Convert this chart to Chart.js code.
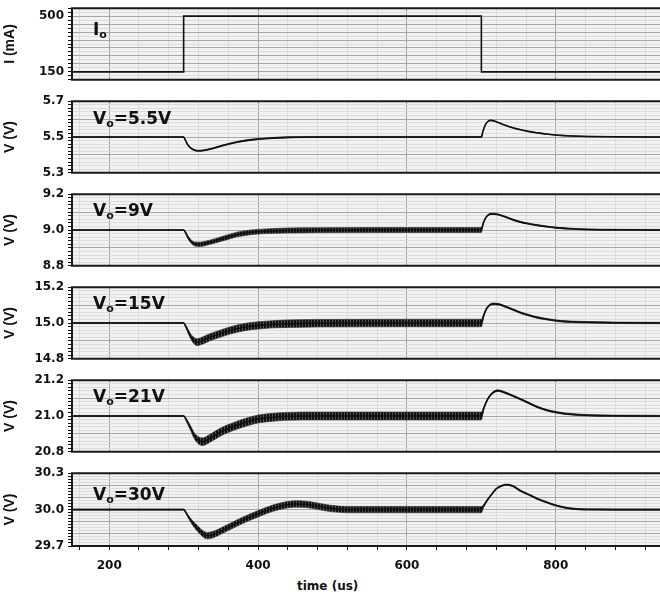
<!DOCTYPE html>
<html>
<head>
<meta charset="utf-8">
<script src="https://cdn.jsdelivr.net/npm/chart.js@4"></script>
<style>
  body { margin: 0; background: #fff; }
  #wrap { position: relative; width: 660px; height: 597px; overflow: hidden; font-family: "DejaVu Sans", sans-serif; }
  #wrap canvas { position: absolute; left: 0; }
  .tag { position: absolute; font-weight: bold; font-size: 17px; line-height: 17px; color: #111; white-space: nowrap; }
  .tag span { font-size: 11px; position: relative; top: 3px; }
  #xtitle { position: absolute; left: 297px; top: 580px; font-weight: bold; font-size: 12px; line-height: 12px; color: #111; }
</style>
</head>
<body>
<div id="wrap">
  <div id="xtitle">time (us)</div>
</div>
<script>
// time axis (us)
const timeRange = [150, 940];

// load current step
const iTime = [150, 300, 300, 700, 700, 940];
const iLoad = [150, 150, 500, 500, 150, 150];

// Vo = 5.5V : time, centre value, ripple half-band
const t55 = [150, 300, 302, 305, 309, 314, 320, 328, 340, 355, 372, 390, 410, 440, 480, 700,
  702, 705, 709, 713, 720, 731, 742, 753, 765, 776, 790, 803, 820, 843, 880, 940];
const v55 = [5.5, 5.5, 5.485, 5.46, 5.44, 5.428, 5.423, 5.426, 5.437, 5.455, 5.472, 5.484, 5.492, 5.498, 5.5, 5.5,
  5.53, 5.565, 5.588, 5.593, 5.585, 5.567, 5.552, 5.54, 5.53, 5.523, 5.515, 5.51, 5.506, 5.503, 5.501, 5.5];
const r55 = [0.001, 0.001, 0.002, 0.002, 0.003, 0.003, 0.003, 0.003, 0.003, 0.003, 0.003, 0.003, 0.003, 0.003, 0.003, 0.003,
  0.002, 0.001, 0.001, 0.001, 0.001, 0.001, 0.001, 0.001, 0.001, 0.001, 0.001, 0.001, 0.001, 0.001, 0.001, 0.001];

// Vo = 9V
const t9 = [150, 300, 302, 305, 309, 315, 322, 330, 340, 355, 372, 390, 410, 440, 480, 600, 700,
  702, 705, 709, 715, 722, 731, 742, 753, 765, 776, 790, 803, 820, 843, 880, 940];
const v9 = [9.0, 9.0, 8.99, 8.965, 8.94, 8.922, 8.92, 8.926, 8.937, 8.955, 8.975, 8.987, 8.993, 8.997, 8.999, 9.0, 9.0,
  9.03, 9.062, 9.083, 9.09, 9.087, 9.075, 9.058, 9.044, 9.034, 9.026, 9.018, 9.012, 9.007, 9.003, 9.001, 9.0];
const r9 = [0.002, 0.002, 0.004, 0.007, 0.009, 0.011, 0.012, 0.012, 0.012, 0.013, 0.013, 0.013, 0.013, 0.014, 0.014, 0.014, 0.014,
  0.006, 0.003, 0.003, 0.003, 0.003, 0.003, 0.003, 0.003, 0.003, 0.003, 0.003, 0.003, 0.003, 0.003, 0.003, 0.003];

// Vo = 15V
const t15 = [150, 300, 303, 307, 311, 318, 326, 335, 349, 362, 372, 386, 401, 420, 439, 480, 600, 700,
  703, 707, 711, 717, 724, 731, 742, 753, 765, 776, 790, 803, 820, 843, 880, 940];
const v15 = [15.0, 15.0, 14.98, 14.945, 14.915, 14.893, 14.903, 14.92, 14.94, 14.958, 14.969, 14.98, 14.987, 14.993, 14.996, 14.999, 15.0, 15.0,
  15.04, 15.08, 15.1, 15.107, 15.104, 15.094, 15.076, 15.057, 15.042, 15.03, 15.02, 15.012, 15.007, 15.004, 15.001, 15.0];
const r15 = [0.003, 0.003, 0.006, 0.011, 0.015, 0.019, 0.02, 0.02, 0.02, 0.02, 0.02, 0.02, 0.02, 0.02, 0.021, 0.021, 0.021, 0.021,
  0.008, 0.004, 0.004, 0.004, 0.004, 0.004, 0.004, 0.004, 0.004, 0.004, 0.004, 0.004, 0.004, 0.004, 0.004, 0.004];

// Vo = 21V
const t21 = [150, 300, 304, 309, 315, 325, 336, 349, 360, 372, 386, 401, 420, 439, 480, 600, 700,
  703, 708, 714, 722, 731, 742, 753, 765, 776, 790, 803, 820, 843, 880, 940];
const v21 = [21.0, 21.0, 20.975, 20.935, 20.885, 20.856, 20.877, 20.909, 20.93, 20.949, 20.968, 20.984, 20.993, 20.998, 21.0, 21.0, 21.0,
  21.04, 21.09, 21.125, 21.142, 21.132, 21.113, 21.093, 21.07, 21.049, 21.03, 21.019, 21.01, 21.004, 21.001, 21.0];
const r21 = [0.003, 0.003, 0.007, 0.012, 0.017, 0.021, 0.022, 0.022, 0.022, 0.022, 0.022, 0.022, 0.022, 0.022, 0.022, 0.022, 0.022,
  0.008, 0.004, 0.004, 0.004, 0.004, 0.004, 0.004, 0.004, 0.004, 0.004, 0.004, 0.004, 0.004, 0.004, 0.004];

// Vo = 30V
const t30 = [150, 300, 304, 309, 314, 320, 326, 332, 340, 349, 360, 372, 386, 401, 420, 439, 450, 465, 480, 497, 520, 600, 700,
  703, 709, 715, 720, 727, 733, 742, 753, 765, 776, 790, 803, 821, 843, 880, 940];
const v30 = [30.0, 30.0, 29.965, 29.916, 29.875, 29.835, 29.8, 29.785, 29.795, 29.82, 29.853, 29.89, 29.93, 29.968, 30.012, 30.04, 30.046, 30.043, 30.028, 30.01, 30.0, 30.0, 30.0,
  30.03, 30.087, 30.135, 30.171, 30.195, 30.205, 30.195, 30.153, 30.12, 30.087, 30.055, 30.029, 30.008, 30.001, 30.0, 30.0];
const r30 = [0.004, 0.004, 0.008, 0.014, 0.02, 0.024, 0.026, 0.026, 0.026, 0.026, 0.026, 0.026, 0.026, 0.026, 0.026, 0.026, 0.026, 0.026, 0.026, 0.026, 0.026, 0.026, 0.026,
  0.01, 0.005, 0.005, 0.005, 0.005, 0.005, 0.005, 0.005, 0.005, 0.005, 0.005, 0.005, 0.005, 0.005, 0.005, 0.005];

// axis ranges, grid steps and labelled ticks per panel
const yRanges = [[100, 550], [5.3, 5.7], [8.8, 9.2], [14.8, 15.2], [20.8, 21.2], [29.7, 30.3]];
const yMinorSteps = [25, 0.02, 0.02, 0.02, 0.02, 0.025];
const yMajorSteps = [50, 0.1, 0.1, 0.1, 0.1, 0.1];
const yTickLabels = [[150, 500], [5.3, 5.5, 5.7], [8.8, 9.0, 9.2], [14.8, 15.0, 15.2], [20.8, 21.0, 21.2], [29.7, 30.0, 30.3]];
const yTitles = ["I (mA)", "V (V)", "V (V)", "V (V)", "V (V)", "V (V)"];
const tagMain = ["I", "V", "V", "V", "V", "V"];
const tagTail = ["", "=5.5V", "=9V", "=15V", "=21V", "=30V"];
const tagTop = [21, 110, 202, 295, 388, 486];
const xLabelTicks = [200, 400, 600, 800];

const series = [
  [iTime, iLoad, null],
  [t55, v55, r55],
  [t9, v9, r9],
  [t15, v15, r15],
  [t21, v21, r21],
  [t30, v30, r30],
];

const wrap = document.getElementById("wrap");
const near = (a, b) => Math.abs(a - b) < 1e-6;
const isMultiple = (v, s) => near(v / s, Math.round(v / s));

// fuzzy fill for the ripple band (dense vertical hatching)
function ripplePattern() {
  const c = document.createElement("canvas");
  c.width = 3;
  c.height = 1;
  const g = c.getContext("2d");
  g.fillStyle = "#111";
  g.fillRect(0, 0, 2, 1);
  g.fillStyle = "#555";
  g.fillRect(2, 0, 1, 1);
  return g.createPattern(c, "repeat");
}
const rippleFill = ripplePattern();

const framePlugin = {
  id: "frame",
  beforeDraw(chart) {
    const { ctx, chartArea: a } = chart;
    ctx.save();
    ctx.fillStyle = "#f2f2f2";
    ctx.fillRect(a.left, a.top, a.right - a.left, a.bottom - a.top);
    ctx.restore();
  },
  afterDraw(chart) {
    const { ctx, chartArea: a } = chart;
    ctx.save();
    ctx.strokeStyle = "#1a1a1a";
    ctx.lineWidth = 2;
    ctx.beginPath();
    ctx.moveTo(a.right, a.top);
    ctx.lineTo(a.left, a.top);
    ctx.lineTo(a.left, a.bottom);
    ctx.lineTo(a.right, a.bottom);
    ctx.stroke();
    ctx.restore();
  },
};

const tickFont = { family: "DejaVu Sans", weight: "bold", size: 12 };

series.forEach(([t, v, r], i) => {
  const last = i === series.length - 1;
  const top = 5 + 93 * i;
  const padTop = 8;
  const bottomH = last ? 51 : 10;

  const canvas = document.createElement("canvas");
  canvas.width = 660;
  canvas.height = padTop + 76 + bottomH;
  canvas.style.top = top - padTop + "px";
  wrap.appendChild(canvas);

  const tag = document.createElement("div");
  tag.className = "tag";
  tag.style.left = "93px";
  tag.style.top = tagTop[i] + "px";
  tag.innerHTML = tagMain[i] + "<span>o</span>" + tagTail[i];
  wrap.appendChild(tag);

  const datasets = [
    {
      data: t.map((x, k) => ({ x: x, y: v[k] })),
      borderColor: "#111",
      borderWidth: 1.6,
      pointRadius: 0,
      fill: false,
      tension: 0,
      cubicInterpolationMode: r ? "monotone" : "default",
    },
  ];
  if (r) {
    datasets.push({
      data: t.map((x, k) => ({ x: x, y: v[k] - r[k] })),
      borderColor: "#333",
      borderWidth: 0.7,
      pointRadius: 0,
      fill: false,
      cubicInterpolationMode: "monotone",
    });
    datasets.push({
      data: t.map((x, k) => ({ x: x, y: v[k] + r[k] })),
      borderColor: "#333",
      borderWidth: 0.7,
      backgroundColor: rippleFill,
      pointRadius: 0,
      fill: "-1",
      cubicInterpolationMode: "monotone",
    });
  }

  const [yMin, yMax] = yRanges[i];
  const labels = yTickLabels[i];
  const dec = i === 0 ? 0 : 1;

  new Chart(canvas, {
    type: "line",
    data: { datasets: datasets },
    options: {
      responsive: false,
      animation: false,
      events: [],
      layout: { padding: { top: padTop, left: 0, right: 0, bottom: 0 } },
      plugins: { legend: { display: false }, tooltip: { enabled: false } },
      scales: {
        x: {
          type: "linear",
          min: timeRange[0],
          max: timeRange[1],
          afterFit(scale) {
            scale.height = bottomH;
          },
          border: { display: false },
          grid: {
            color: (c) => (c.tick && isMultiple(c.tick.value, 200) ? "#a0a0a0" : "#dcdcdc"),
            drawTicks: last,
            tickLength: 4,
            tickColor: "#111",
          },
          ticks: {
            display: last,
            stepSize: 40,
            includeBounds: false,
            autoSkip: false,
            maxRotation: 0,
            padding: 9,
            color: "#111",
            font: tickFont,
            callback: (val) => (xLabelTicks.some((x) => near(x, val)) ? String(val) : ""),
          },
        },
        y: {
          type: "linear",
          min: yMin,
          max: yMax,
          afterFit(scale) {
            scale.width = 72;
          },
          border: { display: false },
          grid: {
            color: (c) => (c.tick && isMultiple(c.tick.value, yMajorSteps[i]) ? "#a8a8a8" : "#dcdcdc"),
            tickLength: 4,
            tickColor: "#111",
          },
          ticks: {
            stepSize: yMinorSteps[i],
            autoSkip: false,
            padding: 4,
            color: "#111",
            font: tickFont,
            callback: (val) => (labels.some((l) => near(l, val)) ? Number(val).toFixed(dec) : ""),
          },
          title: {
            display: true,
            text: yTitles[i],
            color: "#111",
            font: { family: "Liberation Sans", weight: "bold", size: 14 },
            padding: { top: 2, bottom: 0 },
          },
        },
      },
    },
    plugins: [framePlugin],
  });
});
</script>
</body>
</html>
